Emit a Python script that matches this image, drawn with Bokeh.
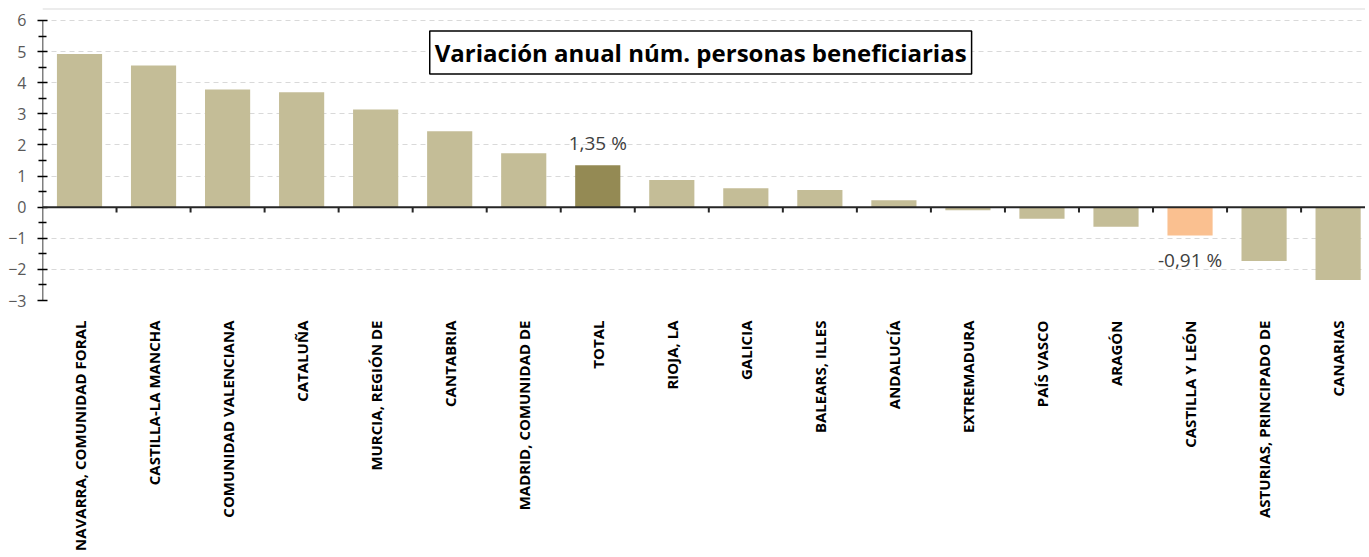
import math
from bokeh.plotting import figure
from bokeh.models import Range1d, FixedTicker, ColumnDataSource, Label, Span
from bokeh.core.properties import value
from bokeh.embed import file_html
from bokeh.resources import INLINE

regions = ["NAVARRA, COMUNIDAD FORAL", "CASTILLA-LA MANCHA", "COMUNIDAD VALENCIANA",
           "CATALUÑA", "MURCIA, REGIÓN DE", "CANTABRIA", "MADRID, COMUNIDAD DE", "TOTAL",
           "RIOJA, LA", "GALICIA", "BALEARS, ILLES", "ANDALUCÍA", "EXTREMADURA",
           "PAÍS VASCO", "ARAGÓN", "CASTILLA Y LEÓN", "ASTURIAS, PRINCIPADO DE", "CANARIAS"]
variation = [4.92, 4.55, 3.78, 3.69, 3.14, 2.44, 1.73, 1.35, 0.87, 0.61, 0.55, 0.22,
             -0.10, -0.37, -0.63, -0.91, -1.73, -2.34]
y_ticks = [-3, -2, -1, 0, 1, 2, 3, 4, 5, 6]
title_text = "Variación anual núm. personas beneficiarias"
labelled = {"TOTAL": "1,35 %", "CASTILLA Y LEÓN": "-0,91 %"}

BASE = "#C4BD97"
TOTAL_C = "#948A54"
HIGHLIGHT = "#FAC090"
FONT = "Open Sans"

xs = [i + 0.5 for i in range(len(regions))]
colors = [TOTAL_C if r == "TOTAL" else HIGHLIGHT if r == "CASTILLA Y LEÓN" else BASE for r in regions]
src = ColumnDataSource(dict(x=xs, top=variation, color=colors))

p = figure(width=1365, height=553, output_backend="svg", toolbar_location=None,
           x_range=Range1d(0, 17.87), y_range=Range1d(-3, 6.385),
           min_border_left=42, min_border_right=0, min_border_top=8, min_border_bottom=252)
p.outline_line_color = None
p.background_fill_color = "white"

# grid
p.xgrid.visible = False
p.ygrid.grid_line_color = "#D9D9D9"
p.ygrid.grid_line_dash = "5 4"
p.ygrid.grid_line_width = 1

p.vbar(x="x", top="top", bottom=0, width=0.61, fill_color="color", line_color=None, source=src)

# top border line
p.add_layout(Span(location=6.385, dimension="width", line_color="#D9D9D9", line_width=2))

# zero line
p.add_layout(Span(location=0, dimension="width", line_color="#262626", line_width=2))
bx = list(range(1, len(regions)))
p.segment(x0=bx, y0=[0] * len(bx), x1=bx, y1=[-0.17] * len(bx), line_color="#262626", line_width=2)

# y axis line drawn from -3 to 6
p.segment(x0=[0], y0=[y_ticks[0]], x1=[0], y1=[y_ticks[-1]], line_color="black", line_width=1.5)

# y axis
yt = FixedTicker(ticks=y_ticks, minor_ticks=[t + 0.5 for t in y_ticks[:-1]])
p.yaxis.ticker = yt
p.yaxis.axis_line_color = None
p.yaxis.major_tick_in = 5
p.yaxis.major_tick_out = 5
p.yaxis.minor_tick_in = 4
p.yaxis.minor_tick_out = 4
p.yaxis.major_tick_line_color = "black"
p.yaxis.minor_tick_line_color = "black"
p.yaxis.major_tick_line_width = 1.5
p.yaxis.minor_tick_line_width = 1.5
p.yaxis.major_label_text_font = FONT
p.yaxis.major_label_text_font_size = "16px"
p.yaxis.major_label_text_color = "#595959"
p.yaxis.major_label_standoff = 11

# x axis
p.xaxis.ticker = FixedTicker(ticks=xs)
p.xaxis.major_label_overrides = {x: r for x, r in zip(xs, regions)}
p.xaxis.major_label_orientation = math.pi / 2
p.xaxis.axis_line_color = None
p.xaxis.major_tick_line_color = None
p.xaxis.minor_tick_line_color = None
p.xaxis.major_label_text_font = FONT
p.xaxis.major_label_text_font_style = "bold"
p.xaxis.major_label_text_font_size = "15px"
p.xaxis.major_label_text_color = "black"
p.xaxis.major_label_standoff = 14

# data labels
lx, ly, lt, lo = [], [], [], []
for x, v, r in zip(xs, variation, regions):
    if r in labelled:
        lx.append(x); ly.append(v); lt.append(labelled[r])
        lo.append(-22 if v > 0 else 25)
p.text(x=lx, y=ly, text=lt, y_offset=lo, text_align="center", text_baseline="middle",
       text_font=value(FONT), text_font_size="19px", text_color="#404040")

# title box
p.add_layout(Label(x=8.89, y=4.97, text=title_text, text_align="center", text_baseline="middle",
                   text_font=FONT, text_font_style="bold", text_font_size="24px", text_color="black",
                   border_line_color="black", border_line_width=1.5, background_fill_color="white",
                   padding=5))

open("out.html", "w").write(file_html(p, INLINE))
